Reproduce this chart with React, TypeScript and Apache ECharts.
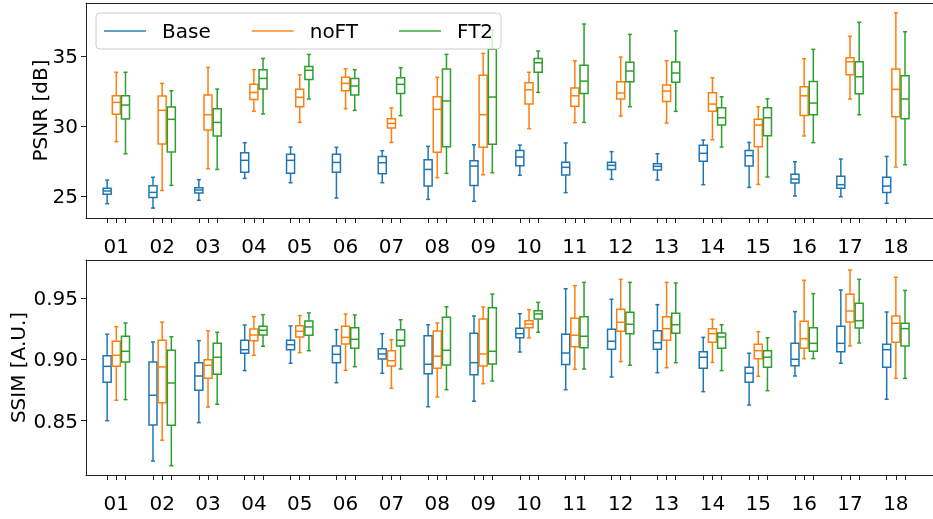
import React, { useEffect, useRef } from "react";
import * as echarts from "echarts";

const categories = ["01", "02", "03", "04", "05", "06", "07", "08", "09", "10", "11", "12", "13", "14", "15", "16", "17", "18"];
const seriesNames = ["Base", "noFT", "FT2"];
const colors = ["#1f77b4", "#ff7f0e", "#2ca02c"];

// each entry: [min, q1, median, q3, max]
const psnrBase = [
  [24.45, 25.12, 25.36, 25.55, 26.14], [24.14, 24.9, 25.26, 25.74, 26.34], [24.69, 25.21, 25.43, 25.6, 26.17],
  [26.26, 26.69, 27.55, 28.09, 28.81], [25.95, 26.62, 27.55, 27.98, 28.5], [24.86, 26.69, 27.4, 27.98, 28.48],
  [25.95, 26.6, 27.38, 27.83, 28.24], [24.76, 25.71, 26.9, 27.6, 28.55], [24.62, 25.76, 27.14, 27.52, 28.66],
  [26.48, 27.17, 27.79, 28.26, 28.64], [25.24, 26.5, 27.05, 27.41, 28.79], [26.19, 26.9, 27.19, 27.41, 28.17],
  [26.14, 26.86, 27.12, 27.31, 28.02], [25.81, 27.48, 28.05, 28.62, 29.0], [25.62, 27.14, 27.88, 28.26, 28.83],
  [25.0, 25.93, 26.21, 26.55, 27.45], [24.95, 25.55, 25.81, 26.41, 27.64], [24.48, 25.26, 25.71, 26.34, 27.83],
];
const psnrNoFT = [
  [28.88, 30.84, 31.69, 32.16, 33.84], [25.4, 28.71, 31.12, 32.14, 33.05], [26.95, 29.71, 30.81, 32.21, 34.19],
  [31.05, 31.9, 32.4, 32.98, 34.02], [30.26, 31.38, 32.05, 32.62, 33.66], [31.24, 32.52, 33.05, 33.48, 34.09],
  [28.83, 29.86, 30.19, 30.52, 31.29], [26.31, 28.12, 31.19, 32.09, 33.48], [26.52, 28.48, 30.81, 33.62, 35.19],
  [29.81, 31.57, 32.59, 33.09, 33.84], [30.24, 31.41, 32.16, 32.71, 34.66], [30.71, 31.93, 32.36, 33.17, 34.93],
  [30.21, 31.76, 32.5, 32.93, 34.66], [29.02, 31.05, 31.57, 32.38, 33.45], [25.83, 28.52, 30.07, 30.48, 31.38],
  [29.29, 30.76, 32.16, 32.81, 34.81], [31.93, 33.66, 34.59, 34.88, 36.41], [27.07, 30.66, 32.62, 34.07, 38.09],
];
const psnrFT2 = [
  [28.02, 30.5, 31.5, 32.16, 33.84], [25.76, 28.14, 30.48, 31.36, 32.52], [26.9, 29.29, 30.26, 31.24, 32.64],
  [30.86, 32.64, 33.4, 34.02, 34.83], [31.93, 33.33, 33.98, 34.26, 35.12], [31.12, 32.21, 32.86, 33.4, 34.02],
  [30.74, 32.33, 32.98, 33.45, 34.17], [26.62, 28.52, 31.79, 34.07, 35.12], [26.66, 28.69, 32.07, 35.48, 36.86],
  [32.4, 33.84, 34.52, 34.83, 35.36], [30.26, 32.33, 33.21, 34.34, 37.29], [31.38, 33.17, 33.93, 34.55, 36.55],
  [31.05, 33.12, 33.79, 34.57, 36.79], [28.5, 30.07, 30.59, 31.31, 32.09], [26.36, 29.31, 30.59, 31.31, 31.95],
  [28.81, 30.81, 31.64, 33.19, 35.48], [30.81, 32.31, 33.52, 34.59, 37.41], [27.24, 30.52, 31.93, 33.59, 36.74],
];
const ssimBase = [
  [0.85, 0.8814, 0.8944, 0.9031, 0.9206], [0.817, 0.8465, 0.8708, 0.898, 0.9143], [0.8484, 0.8748, 0.8865, 0.8974, 0.9154],
  [0.8909, 0.9051, 0.908, 0.9157, 0.9282], [0.8969, 0.908, 0.9121, 0.9157, 0.9274], [0.881, 0.8974, 0.9042, 0.911, 0.9244],
  [0.8887, 0.9004, 0.9045, 0.9088, 0.9211], [0.8614, 0.8884, 0.8961, 0.9194, 0.9284], [0.8659, 0.8876, 0.8974, 0.9214, 0.9355],
  [0.9061, 0.9178, 0.9211, 0.9255, 0.9374], [0.8753, 0.8958, 0.9053, 0.9206, 0.9578], [0.8857, 0.9083, 0.9149, 0.9247, 0.9492],
  [0.8892, 0.9083, 0.9137, 0.9235, 0.9448], [0.8737, 0.8928, 0.9018, 0.9064, 0.9181], [0.8628, 0.8814, 0.8887, 0.8936, 0.9051],
  [0.8865, 0.8949, 0.9002, 0.9132, 0.9391], [0.8969, 0.9064, 0.9132, 0.9271, 0.9568], [0.8675, 0.8936, 0.908, 0.9124, 0.9388],
];
const ssimNoFT = [
  [0.8667, 0.8944, 0.9034, 0.9149, 0.9268], [0.834, 0.8647, 0.8939, 0.9157, 0.9306], [0.8611, 0.8846, 0.8953, 0.8998, 0.9235],
  [0.9034, 0.9154, 0.92, 0.9249, 0.935], [0.9056, 0.9184, 0.923, 0.9276, 0.9358], [0.8912, 0.9127, 0.9181, 0.9271, 0.9372],
  [0.8765, 0.8947, 0.899, 0.9072, 0.9162], [0.8694, 0.8928, 0.9026, 0.9233, 0.9298], [0.8802, 0.8947, 0.9045, 0.9331, 0.9429],
  [0.9176, 0.926, 0.929, 0.9317, 0.9407], [0.892, 0.9105, 0.9198, 0.9337, 0.9603], [0.8982, 0.923, 0.9304, 0.941, 0.9655],
  [0.8933, 0.9157, 0.9252, 0.935, 0.963], [0.8977, 0.914, 0.9211, 0.9252, 0.9328], [0.8863, 0.9007, 0.9072, 0.9124, 0.9227],
  [0.9007, 0.9092, 0.917, 0.9312, 0.9647], [0.911, 0.9306, 0.9396, 0.9533, 0.9731], [0.8846, 0.914, 0.9296, 0.9355, 0.9672],
];
const ssimFT2 = [
  [0.8672, 0.898, 0.9067, 0.919, 0.9298], [0.8132, 0.8462, 0.8808, 0.9075, 0.9186], [0.8634, 0.8879, 0.9018, 0.9132, 0.9222],
  [0.9108, 0.92, 0.9239, 0.9271, 0.9366], [0.9072, 0.9198, 0.9266, 0.9315, 0.938], [0.8941, 0.9092, 0.9165, 0.926, 0.9364],
  [0.8922, 0.911, 0.9157, 0.9244, 0.9325], [0.8753, 0.8955, 0.9075, 0.9345, 0.9431], [0.8824, 0.8963, 0.9067, 0.9423, 0.9535],
  [0.9222, 0.9331, 0.9372, 0.9399, 0.9467], [0.8922, 0.9096, 0.919, 0.935, 0.963], [0.8953, 0.9211, 0.9288, 0.9386, 0.963],
  [0.8974, 0.9214, 0.9284, 0.9377, 0.9625], [0.8909, 0.9092, 0.9184, 0.9216, 0.9284], [0.8745, 0.8936, 0.9018, 0.9072, 0.9178],
  [0.9007, 0.9067, 0.9132, 0.926, 0.9538], [0.9135, 0.9257, 0.9317, 0.9459, 0.9655], [0.8846, 0.911, 0.9252, 0.9296, 0.9565],
];
const psnrTicks = [25, 30, 35];
const ssimTicks = [0.85, 0.9, 0.95];

const FONT = "DejaVu Sans";
const OFFSETS = [-0.2, 0, 0.2];
const BOX_W = 0.175;
const X_MIN = 0.339;
const X_MAX = 18.81;

const boxTickValues: number[] = [];
categories.forEach((_, i) => OFFSETS.forEach((o) => boxTickValues.push(+(i + 1 + o).toFixed(3))));
const catValues = categories.map((_, i) => i + 1);

function makeRender(color: string) {
  return (params: any, api: any) => {
    const x = api.value(0);
    const c = (v: number) => api.coord([x, v]);
    const [xc, yMin] = c(api.value(1));
    const yQ1 = c(api.value(2))[1];
    const yMed = c(api.value(3))[1];
    const yQ3 = c(api.value(4))[1];
    const yMax = c(api.value(5))[1];
    const w = api.size([BOX_W, 0])[0];
    const cw = w / 2;
    const st = { stroke: color, lineWidth: 1.5, fill: "none" };
    return {
      type: "group",
      children: [
        { type: "rect", shape: { x: xc - w / 2, y: yQ3, width: w, height: yQ1 - yQ3 }, style: st },
        { type: "line", shape: { x1: xc - w / 2, y1: yMed, x2: xc + w / 2, y2: yMed }, style: st },
        { type: "line", shape: { x1: xc, y1: yQ3, x2: xc, y2: yMax }, style: st },
        { type: "line", shape: { x1: xc, y1: yQ1, x2: xc, y2: yMin }, style: st },
        { type: "line", shape: { x1: xc - cw / 2, y1: yMax, x2: xc + cw / 2, y2: yMax }, style: st },
        { type: "line", shape: { x1: xc - cw / 2, y1: yMin, x2: xc + cw / 2, y2: yMin }, style: st },
      ],
    };
  };
}

function buildData(vals: number[][], s: number) {
  return vals.map((v, i) => [i + 1 + OFFSETS[s], ...v]);
}

export default function App() {
  const ref = useRef<HTMLDivElement>(null);
  useEffect(() => {
    if (!ref.current) return;
    const chart = echarts.init(ref.current, null, { renderer: "svg" });
    const axisLineStyle = { color: "#222", width: 1 };
    const bottomX = (gridIndex: number) => ({
      type: "value",
      gridIndex,
      min: X_MIN,
      max: X_MAX,
      position: "bottom",
      splitLine: { show: false },
      axisLine: { show: true, onZero: false, lineStyle: axisLineStyle },
      axisTick: { show: true, length: 5, customValues: boxTickValues, lineStyle: { color: "#222" } },
      axisLabel: {
        customValues: catValues,
        formatter: (v: number) => categories[Math.round(v) - 1],
        fontSize: 20,
        fontFamily: FONT,
        color: "#000",
        margin: 18,
      },
    });
    const topX = (gridIndex: number) => ({
      type: "value",
      gridIndex,
      min: X_MIN,
      max: X_MAX,
      position: "top",
      splitLine: { show: false },
      axisLine: { show: true, onZero: false, lineStyle: axisLineStyle },
      axisTick: { show: false },
      axisLabel: { show: false },
    });
    const yAx = (gridIndex: number, min: number, max: number, ticks: number[], name: string, gap: number, fmt: (v: number) => string) => ({
      type: "value",
      gridIndex,
      min,
      max,
      name,
      nameLocation: "middle",
      nameGap: gap,
      nameMoveOverlap: false,
      nameTextStyle: { fontSize: 20, fontFamily: FONT, color: "#000" },
      splitLine: { show: false },
      axisLine: { show: true, onZero: false, lineStyle: axisLineStyle },
      axisTick: { show: true, length: 5, customValues: ticks, lineStyle: { color: "#222" } },
      axisLabel: { customValues: ticks, formatter: fmt, fontSize: 20, fontFamily: FONT, color: "#000", margin: 8 },
    });

    const groups = [
      [psnrBase, psnrNoFT, psnrFT2],
      [ssimBase, ssimNoFT, ssimFT2],
    ];
    const series: any[] = [];
    groups.forEach((g, gi) => {
      g.forEach((vals, s) => {
        series.push({
          type: "custom",
          name: seriesNames[s],
          xAxisIndex: gi === 0 ? 0 : 2,
          yAxisIndex: gi,
          itemStyle: { color: colors[s] },
          encode: { x: 0, y: [1, 2, 3, 4, 5] },
          renderItem: makeRender(colors[s]),
          data: buildData(vals, s),
          z: 2,
        });
      });
    });

    chart.setOption({
      animation: false,
      grid: [
        { left: 86, right: 0, top: 3, height: 215 },
        { left: 86, right: 0, top: 260, height: 215 },
      ],
      xAxis: [bottomX(0), topX(0), bottomX(1), topX(1)],
      yAxis: [
        yAx(0, 23.43, 38.79, psnrTicks, "PSNR [dB]", 36, (v: number) => String(v)),
        yAx(1, 0.8056, 0.9813, ssimTicks, "SSIM [A.U.]", 58, (v: number) => v.toFixed(2)),
      ],
      legend: {
        data: seriesNames,
        left: 96,
        top: 13,
        orient: "horizontal",
        padding: [8, 8, 8, 8],
        itemWidth: 42,
        itemHeight: 2,
        itemGap: 41,
        icon: "rect",
        backgroundColor: "rgba(255,255,255,0.8)",
        borderColor: "#cccccc",
        borderWidth: 1,
        borderRadius: 4,
        z: 10,
        textStyle: { fontSize: 20, fontFamily: FONT, color: "#000", padding: [0, 0, 0, 11] },
        itemStyle: { opacity: 0.7 },
      },
      series,
    });
    return () => chart.dispose();
  }, []);
  return <div ref={ref} style={{ position: "fixed", left: 0, top: 0, width: 933, height: 519 }} />;
}
